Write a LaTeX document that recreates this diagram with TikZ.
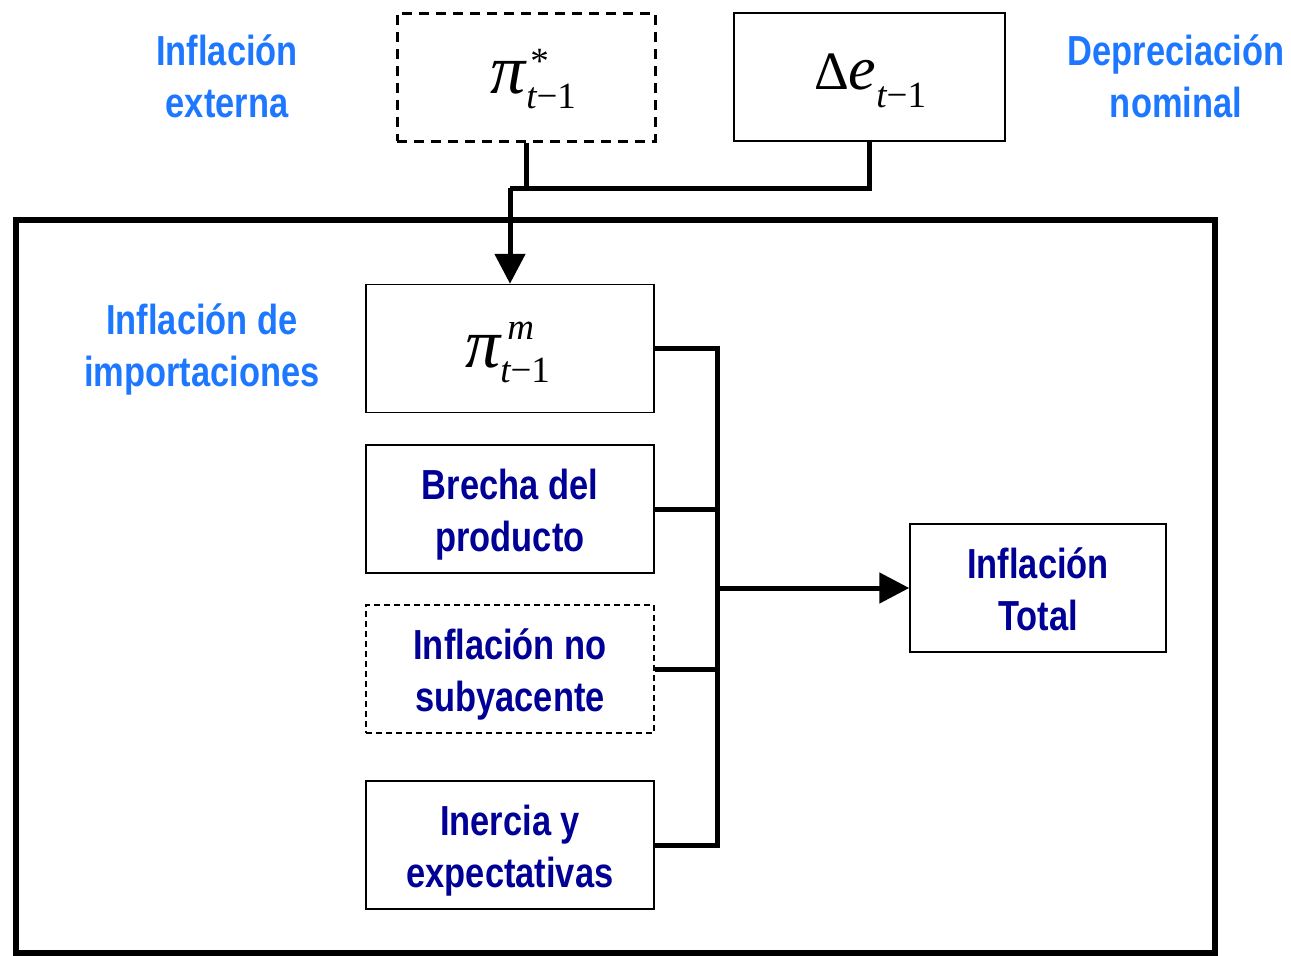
\documentclass[tikz,border=0pt]{standalone}
\usepackage{fontspec}
\setmainfont[FakeStretch=0.82,BoldFeatures={FakeStretch=0.82}]{Liberation Sans}
\newfontfamily\serif{Liberation Serif}
\usetikzlibrary{arrows.meta}
\definecolor{labblue}{RGB}{30,120,255}
\definecolor{boxnavy}{RGB}{0,0,150}
\newcommand\mpifont{\fontsize{70}{70}\selectfont\serif\itshape}
\newcommand\mdeltafont{\fontsize{54}{54}\selectfont\serif\upshape}
\newcommand\mefont{\fontsize{62}{62}\selectfont\serif\itshape}
\newcommand\msmallfont{\fontsize{37}{37}\selectfont\serif}
\newcommand\twolines[2]{\raisebox{0pt}[\dimexpr\height+13pt\relax][\depth]{\begin{tabular}{@{}c@{}}#1\\#2\end{tabular}}}
\tikzset{
  lab/.style={align=center,text=labblue,font=\fontsize{42}{52}\selectfont\bfseries},
  bx/.style={draw,line width=1.5pt,minimum width=288pt,minimum height=128pt,inner sep=0pt,
    text=boxnavy,font=\fontsize{42}{52}\selectfont\bfseries},
  mathtxt/.style={anchor=base west,inner sep=0pt,text=black},
  conn/.style={line width=5pt},
  tip/.style={-{Triangle[length=30pt,width=30pt]}}
}
\begin{document}
\begin{tikzpicture}[x=1pt,y=-1pt]
\useasboundingbox (0,0) rectangle (1291,956);
% outer frame
\node[draw,line width=6pt,minimum width=1199pt,minimum height=733pt,inner sep=0pt] (frame) at (615.5,586.5) {};
% top boxes
\node[draw,line width=3pt,dash pattern=on 10pt off 7pt,minimum width=258pt,minimum height=128pt,inner sep=0pt] (pis) at (526,77) {};
\node[mathtxt] (pist) at (490,93)
  {{\mpifont π}\rlap{\hspace{5pt}\raisebox{20pt}{\msmallfont *}}\hspace{1pt}\raisebox{-15pt}{\msmallfont\itshape t\upshape −1}};
\node[draw,line width=1.5pt,minimum width=271pt,minimum height=128pt,inner sep=0pt] (de) at (869.5,77) {};
\node[mathtxt] (det) at (814,89)
  {{\mdeltafont Δ}{\mefont e}\raisebox{-18pt}{\msmallfont\itshape t\upshape −1}};
% labels
\node[lab] (lext) at (227,76) {Inflación\\externa};
\node[lab] (ldep) at (1176,76) {Depreciación\\nominal};
\node[lab] (limp) at (202,349) {Inflación de\\importaciones};
% inner boxes
\node[bx] (pim) at (510,348.5) {};
\node[mathtxt] (pimt) at (465,367)
  {{\mpifont π}\rlap{\hspace{7pt}\raisebox{28pt}{\msmallfont\itshape m}}\raisebox{-15pt}{\msmallfont\itshape t\upshape −1}};
\node[bx] (bre) at (510,509) {\twolines{Brecha del}{producto}};
\node[bx,line width=1.2pt,dash pattern=on 6pt off 4pt] (nos) at (510,669) {\twolines{Inflación no}{subyacente}};
\node[bx] (ine) at (510,845) {\twolines{Inercia y}{expectativas}};
\node[bx,minimum width=256pt] (tot) at (1038,588) {\twolines{Inflación}{Total}};
% top connectors
\coordinate (j) at (510,188);
\draw[conn] (pis.south) |- (j);
\draw[conn] (de.south) |- (j);
\draw[conn,tip] (j) -- (pim.north);
% bus
\coordinate (bus) at (717,0);
\draw[conn] (pim.east) -- (pim.east -| bus) |- (ine.east);
\draw[conn] (bre.east) -- (bre.east -| bus);
\draw[conn] (nos.east) -- (nos.east -| bus);
\draw[conn,tip] (tot.west -| bus) -- (tot.west);
\end{tikzpicture}
\end{document}
